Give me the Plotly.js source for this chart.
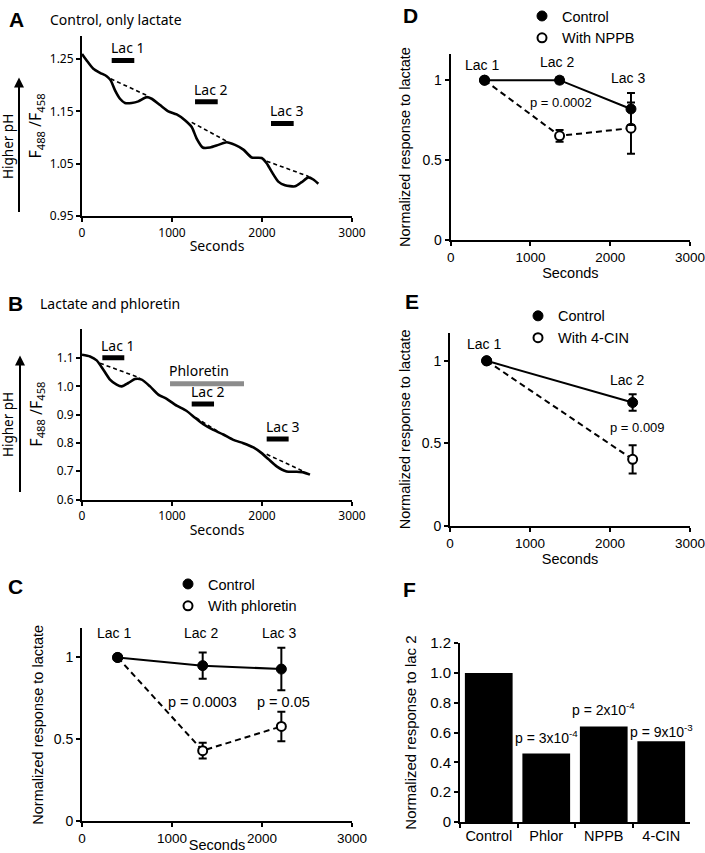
<!DOCTYPE html>
<html><head><meta charset="utf-8">
<script src="https://cdn.plot.ly/plotly-3.0.1.min.js"></script>
<style>html,body{margin:0;padding:0;background:#fff}#chart{width:705px;height:853px}</style>
</head><body><div id="chart"></div>
<script>
// ---------- DATA ----------
// Panel A: control, only lactate
const aTime  = [0,52,126,200,274,319,367,422,478,552,626,719,774,867,959,1052,1144,1219,1274,1341,1422,1515,1607,1700,1793,1885,1996,2052,2107,2181,2256,2367,2441,2515,2570,2626];
const aRatio = [1.2595,1.247,1.231,1.2235,1.217,1.209,1.19,1.174,1.166,1.166,1.169,1.177,1.174,1.162,1.150,1.144,1.133,1.120,1.098,1.081,1.081,1.086,1.091,1.086,1.077,1.062,1.061,1.051,1.035,1.016,1.009,1.007,1.015,1.024,1.020,1.012];
const aBaseTime  = [319,737,null,1219,1607,null,2052,2515];
const aBaseRatio = [1.212,1.179,null,1.129,1.093,null,1.055,1.026];
const aLacStart = [330,1256,2100];
const aLacEnd   = [581,1508,2352];
const aLacLevel = [1.247,1.168,1.127];
const lacNames  = ["Lac 1","Lac 2","Lac 3"];

// Panel B: lactate and phloretin
const bTime  = [0,89,163,237,311,385,441,515,589,663,756,848,941,1052,1163,1256,1348,1459,1570,1681,1793,1904,1996,2070,2163,2274,2385,2459,2533];
const bRatio = [1.112,1.106,1.092,1.059,1.024,1.006,1.0,1.012,1.026,1.024,1.0,0.971,0.956,0.932,0.913,0.889,0.866,0.846,0.830,0.811,0.799,0.784,0.764,0.743,0.717,0.699,0.698,0.696,0.688];
const bBaseTime  = [200,644,null,1267,1533,null,2052,2459];
const bBaseRatio = [1.082,1.030,null,0.889,0.836,null,0.760,0.70];
const bLacStart = [226,1219,2052];
const bLacEnd   = [470,1467,2296];
const bLacLevel = [1.101,0.938,0.814];
const phlorStart = [978], phlorEnd = [1800], phlorLevel = [1.009];

// Panel C
const cTime = [396,1341,2215];
const cControl = [1.0,0.95,0.929];
const cControlErr = [0,0.08,0.13];
const cPhlor = [1.0,0.431,0.579];
const cPhlorErr = [0,0.048,0.09];

// Panel D
const dTime = [424,1365,2260];
const dControl = [1.0,1.0,0.82];
const dControlErr = [0,0.02,0.10];
const dNPPB = [1.0,0.652,0.70];
const dNPPBErr = [0,0.037,0.16];

// Panel E
const eTime = [458,2283];
const eControl = [1.0,0.747];
const eControlErr = [0,0.05];
const eCIN = [1.0,0.402];
const eCINErr = [0,0.085];

// Panel F
const fCats = ["Control","Phlor","NPPB","4-CIN"];
const fValues = [1.0,0.46,0.64,0.542];
const fPText = ["","p = 3x10<sup>-4</sup>","p = 2x10<sup>-4</sup>","p = 9x10<sup>-3</sup>"];

// Ticks
const secTicks = [0,1000,2000,3000];
const aTicks = [0.95,1.05,1.15,1.25];
const bTicks = [0.6,0.7,0.8,0.9,1.0,1.1];
const respTicks = [0,0.5,1];
const respTickText = ["0","0.5","1"];
const fTicks = [0,0.2,0.4,0.6,0.8,1.0,1.2];
const fTickText = ["0","0.2","0.4","0.6","0.8","1.0","1.2"];

// ---------- HELPERS ----------
const W=705,H=853;
const px = v => v/W, py = v => 1-v/H;
const K='#000';
const fA='Noto Sans', fC='Liberation Sans';
function segs(s,e,l){const x=[],y=[];for(let i=0;i<s.length;i++){x.push(s[i],e[i],null);y.push(l[i],l[i],null);}return {x,y};}
function ax(font,size,extra){return Object.assign({showline:true,linewidth:2,linecolor:K,ticks:'outside',ticklen:4,tickwidth:2,tickcolor:K,showgrid:false,zeroline:false,fixedrange:true,ticklabeloverflow:'allow',tickfont:{family:font,size:size,color:K}},extra);}

const traces=[];
// A
traces.push({x:aBaseTime,y:aBaseRatio,xaxis:'x',yaxis:'y',mode:'lines',line:{color:K,width:1.6,dash:'4px,3px'},showlegend:false,hoverinfo:'skip'});
traces.push({x:aTime,y:aRatio,xaxis:'x',yaxis:'y',mode:'lines',line:{color:K,width:2.6,shape:'spline',smoothing:0.6},showlegend:false});
let s=segs(aLacStart,aLacEnd,aLacLevel);
traces.push({x:s.x,y:s.y,xaxis:'x',yaxis:'y',mode:'lines',line:{color:K,width:5},showlegend:false});
// B
traces.push({x:bBaseTime,y:bBaseRatio,xaxis:'x2',yaxis:'y2',mode:'lines',line:{color:K,width:1.6,dash:'4px,3px'},showlegend:false});
traces.push({x:bTime,y:bRatio,xaxis:'x2',yaxis:'y2',mode:'lines',line:{color:K,width:2.6,shape:'spline',smoothing:0.6},showlegend:false});
s=segs(bLacStart,bLacEnd,bLacLevel);
traces.push({x:s.x,y:s.y,xaxis:'x2',yaxis:'y2',mode:'lines',line:{color:K,width:5},showlegend:false});
s=segs(phlorStart,phlorEnd,phlorLevel);
traces.push({x:s.x,y:s.y,xaxis:'x2',yaxis:'y2',mode:'lines',line:{color:'#8c8c8c',width:5},showlegend:false});

// response panels
function respPanel(xa,ya,t,ctl,ctlErr,trt,trtErr,trtName,legendId){
  traces.push({x:t,y:trt,xaxis:xa,yaxis:ya,mode:'lines',line:{color:K,width:2,dash:'6px,4px'},showlegend:false});
  traces.push({x:t,y:ctl,xaxis:xa,yaxis:ya,mode:'lines',line:{color:K,width:2},showlegend:false});
  traces.push({x:t,y:trt,xaxis:xa,yaxis:ya,mode:'markers',name:trtName,legend:legendId,legendrank:2,
    marker:{symbol:'circle',size:9,color:'#fff',line:{color:K,width:2}},
    error_y:{type:'data',array:trtErr,color:K,thickness:2,width:4}});
  traces.push({x:t,y:ctl,xaxis:xa,yaxis:ya,mode:'markers',name:'Control',legend:legendId,legendrank:1,
    marker:{symbol:'circle',size:10,color:K,line:{color:K,width:1}},
    error_y:{type:'data',array:ctlErr,color:K,thickness:2,width:4}});
}
respPanel('x3','y3',cTime,cControl,cControlErr,cPhlor,cPhlorErr,'With phloretin','legend');
respPanel('x4','y4',dTime,dControl,dControlErr,dNPPB,dNPPBErr,'With NPPB','legend2');
respPanel('x5','y5',eTime,eControl,eControlErr,eCIN,eCINErr,'With 4-CIN','legend3');

// F
traces.push({type:'bar',x:fCats,y:fValues,xaxis:'x6',yaxis:'y6',marker:{color:K},showlegend:false});

// ---------- ANNOTATIONS ----------
const ann=[];
function pa(text,x,y,opt){ann.push(Object.assign({text,x:px(x),y:py(y),xref:'paper',yref:'paper',xanchor:'center',yanchor:'middle',showarrow:false},opt));}
const letter={family:fC,size:21,color:K};
pa('<b>A</b>',16,14,{font:letter});
pa('<b>B</b>',15,300,{font:letter});
pa('<b>C</b>',15,585,{font:letter});
pa('<b>D</b>',411,10,{font:letter});
pa('<b>E</b>',412,298,{font:letter});
pa('<b>F</b>',410,588,{font:letter});
pa('Control, only lactate',48,14,{xanchor:'left',font:{family:fA,size:14,color:K}});
pa('Lactate and phloretin',38,300,{xanchor:'left',font:{family:fA,size:14,color:K}});
pa('Higher pH',8,142,{textangle:-90,font:{family:fA,size:13.5,color:K}});
pa('Higher pH',8,422,{textangle:-90,font:{family:fA,size:13.5,color:K}});
ann.push({text:'',x:px(19),y:py(72),xref:'paper',yref:'paper',showarrow:true,ax:0,ay:136,arrowhead:2,arrowsize:1,arrowwidth:2,arrowcolor:K});
ann.push({text:'',x:px(20),y:py(352),xref:'paper',yref:'paper',showarrow:true,ax:0,ay:138,arrowhead:2,arrowsize:1,arrowwidth:2,arrowcolor:K});

function lacLabels(starts,levels,xr,yr){for(let i=0;i<starts.length;i++){ann.push({text:lacNames[i],x:starts[i],y:levels[i],xref:xr,yref:yr,xanchor:'left',yanchor:'bottom',yshift:1,xshift:-3,showarrow:false,font:{family:fA,size:14,color:K}});}}
lacLabels(aLacStart,aLacLevel,'x','y');
lacLabels(bLacStart,bLacLevel,'x2','y2');
ann.push({text:'Phloretin',x:phlorStart[0],y:phlorLevel[0],xref:'x2',yref:'y2',xanchor:'left',yanchor:'bottom',yshift:2,xshift:-3,showarrow:false,font:{family:fA,size:14,color:K}});

function da(text,x,y,xr,yr,size){ann.push({text,x,y,xref:xr,yref:yr,xanchor:'center',yanchor:'middle',showarrow:false,font:{family:fC,size:size,color:K}});}
// C
da('Lac 1',352,1.152,'x3','y3',14);
da('Lac 2',1326,1.152,'x3','y3',14);
da('Lac 3',2185,1.152,'x3','y3',14);
da('p = 0.0003',1344,0.728,'x3','y3',14.5);
da('p = 0.05',2241,0.728,'x3','y3',14.5);
// D
da('Lac 1',391,1.095,'x4','y4',14);
da('Lac 2',1328,1.112,'x4','y4',14);
da('Lac 3',2218,1.012,'x4','y4',14);
da('p = 0.0002',1378,0.859,'x4','y4',13);
// E
da('Lac 1',425,1.104,'x5','y5',14);
da('Lac 2',2208,0.884,'x5','y5',14);
da('p = 0.009',2342,0.598,'x5','y5',13);
// F p-values
const fPY=[0,0.573,0.76,0.611];
for(let i=1;i<fCats.length;i++){ann.push({text:fPText[i],x:fCats[i],y:fPY[i],xref:'x6',yref:'y6',xanchor:'center',yanchor:'middle',showarrow:false,font:{family:fC,size:14,color:K}});}

// ---------- LAYOUT ----------
const legFont={family:fC,size:14.5,color:K};
const layout={
  width:W,height:H,margin:{l:0,r:0,t:0,b:0},paper_bgcolor:'#fff',plot_bgcolor:'#fff',
  bargap:0.17,
  xaxis: ax(fA,12,{domain:[px(82),px(352)],range:[0,3000],tickvals:secTicks,anchor:'y',title:{text:'Seconds',font:{family:fA,size:14,color:K},standoff:2}}),
  yaxis: ax(fA,12,{domain:[py(211.7),py(30)],range:[0.95,1.294],tickvals:aTicks,tickformat:'.2f',anchor:'x',title:{text:'F<sub>488</sub> /F<sub>458</sub>',font:{family:fA,size:16,color:K},standoff:4}}),
  xaxis2: ax(fA,12,{domain:[px(82),px(352)],range:[0,3000],tickvals:secTicks,anchor:'y2',title:{text:'Seconds',font:{family:fA,size:14,color:K},standoff:2}}),
  yaxis2: ax(fA,12,{domain:[py(497),py(325)],range:[0.6,1.204],tickvals:bTicks,tickformat:'.1f',anchor:'x2',title:{text:'F<sub>488</sub> /F<sub>458</sub>',font:{family:fA,size:16,color:K},standoff:10}}),
  xaxis3: ax(fC,13.5,{domain:[px(82),px(352)],range:[0,3000],tickvals:secTicks,anchor:'y3',title:{text:'Seconds',font:{family:fC,size:14.5,color:K},standoff:2}}),
  yaxis3: ax(fC,14,{domain:[py(821),py(626.7)],range:[0,1.178],tickvals:respTicks,ticktext:respTickText,anchor:'x3',title:{text:'Normalized response to lactate',font:{family:fC,size:14.5,color:K},standoff:7}}),
  xaxis4: ax(fC,13.5,{domain:[px(450.7),px(690)],range:[0,3000],tickvals:secTicks,anchor:'y4',title:{text:'Seconds',font:{family:fC,size:14.5,color:K},standoff:2}}),
  yaxis4: ax(fC,14,{domain:[py(235.7),py(48.3)],range:[0,1.164],tickvals:respTicks,ticktext:respTickText,anchor:'x4',title:{text:'Normalized response to lactate',font:{family:fC,size:14.5,color:K},standoff:8}}),
  xaxis5: ax(fC,13.5,{domain:[px(450),px(690)],range:[0,3000],tickvals:secTicks,anchor:'y5',title:{text:'Seconds',font:{family:fC,size:14.5,color:K},standoff:2}}),
  yaxis5: ax(fC,14,{domain:[py(523.3),py(329.3)],range:[0,1.169],tickvals:respTicks,ticktext:respTickText,anchor:'x5',title:{text:'Normalized response to lactate',font:{family:fC,size:14.5,color:K},standoff:8}}),
  xaxis6: ax(fC,14.5,{domain:[px(460),px(690)],type:'category',range:[-0.5,3.5],tickson:'boundaries',tickangle:0,anchor:'y6',ticklen:4}),
  yaxis6: ax(fC,15,{domain:[py(821.7),py(641.7)],range:[0,1.2],tickvals:fTicks,ticktext:fTickText,anchor:'x6',title:{text:'Normalized response to lac 2',font:{family:fC,size:15,color:K},standoff:10}}),
  legend: {x:px(168),y:py(566),xanchor:'left',yanchor:'top',bgcolor:'rgba(0,0,0,0)',borderwidth:0,font:legFont,traceorder:'normal'},
  legend2:{x:px(522),y:py(-6),xanchor:'left',yanchor:'top',bgcolor:'rgba(0,0,0,0)',borderwidth:0,font:legFont,traceorder:'normal'},
  legend3:{x:px(518),y:py(296),xanchor:'left',yanchor:'top',bgcolor:'rgba(0,0,0,0)',borderwidth:0,font:legFont,traceorder:'normal'},
  annotations:ann
};
Plotly.newPlot('chart',traces,layout,{staticPlot:true,displayModeBar:false});
</script></body></html>
